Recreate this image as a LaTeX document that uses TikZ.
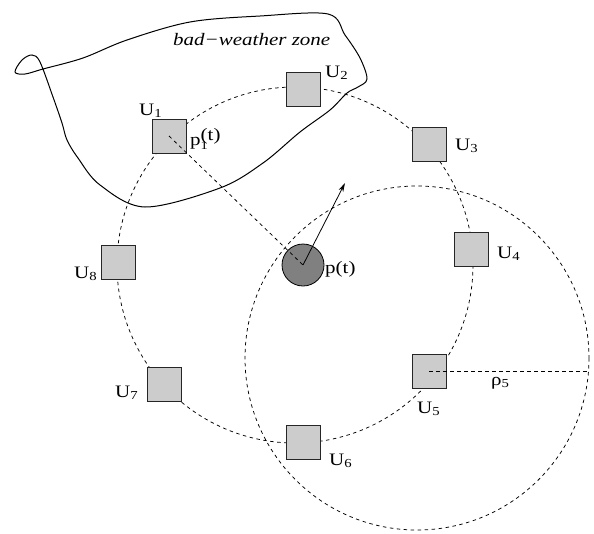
\documentclass[tikz,border=0pt]{standalone}
\usepackage{fontspec}
\setmainfont[FakeStretch=1.2]{Liberation Serif}
\usetikzlibrary{arrows.meta}
\begin{document}
\begin{tikzpicture}[x=1pt,y=-1pt,
  uav/.style={draw=black!85, fill=black!20, minimum size=34pt, inner sep=0pt, line width=0.9pt},
  lbl/.style={font=\fontsize{17.5}{20}\selectfont, inner sep=0pt, anchor=base west},
  dsh/.style={dash pattern=on 3.5pt off 3.5pt, line width=0.75pt},
  zone/.style={line width=1pt}]
\useasboundingbox (0,0) rectangle (594,533);
% circles
\coordinate (C) at (295,265);
\coordinate (C5) at (417,358);
\draw[dsh] (C) circle (178);
\draw[dsh] (C5) circle (172);
% bad-weather zone
\draw[zone] plot[smooth cycle, tension=0.55] coordinates {
  (43,69) (83,58) (127,40) (190,22) (260,16) (328,14) (345,35) (360,58) (367,79)
  (358,87) (347,93) (330,110) (300,132) (263,163) (220,188) (145,207)
  (100,185) (78,158) (67,140) (62,123) (53,97) (40,62) (32,55) (22,60) (15,72) (25,74)};
\node[lbl, font=\fontsize{17.5}{20}\selectfont\itshape] (zl) at (173,45) {bad−weather zone};
% UAV squares
\node[uav] (u1) at (169,136) {};
\node[uav] (u2) at (303,89) {};
\node[uav] (u3) at (429,144) {};
\node[uav] (u4) at (471,249) {};
\node[uav] (u5) at (429,371) {};
\node[uav] (u6) at (303,442) {};
\node[uav] (u7) at (164,384) {};
\node[uav] (u8) at (118,262) {};
% target
\node[circle, draw=black, fill=black!50, minimum size=42pt, inner sep=0pt, line width=0.8pt] (p) at (303,265) {};
\draw[dsh] (u1.center) -- (p.center);
\coordinate (h) at (345,183);
\draw[line width=0.8pt, -{Stealth[length=9pt,width=5pt]}] (p.center) -- (h);
\coordinate (r5) at (588,371);
\draw[dsh] (u5.center) -- (r5);
% labels
\node[lbl] (l1) at (139,115) {U\textsubscript{1}};
\node[lbl] (l2) at (325,77) {U\textsubscript{2}};
\node[lbl] (l3) at (455,150) {U\textsubscript{3}};
\node[lbl] (l4) at (497,258) {U\textsubscript{4}};
\node[lbl] (l5) at (417,413) {U\textsubscript{5}};
\node[lbl] (l6) at (329,465) {U\textsubscript{6}};
\node[lbl] (l7) at (115,397) {U\textsubscript{7}};
\node[lbl] (l8) at (74,278) {U\textsubscript{8}};
\node[lbl] (lp) at (325,273) {p(t)};
\node[lbl] (lp1) at (190,145) {p\rlap{\raisebox{-4pt}{\fontsize{12}{12}\selectfont 1}}\raisebox{5pt}{(t)}};
\node[lbl] (lr) at (491,385) {ρ\textsubscript{5}};
\end{tikzpicture}
\end{document}
